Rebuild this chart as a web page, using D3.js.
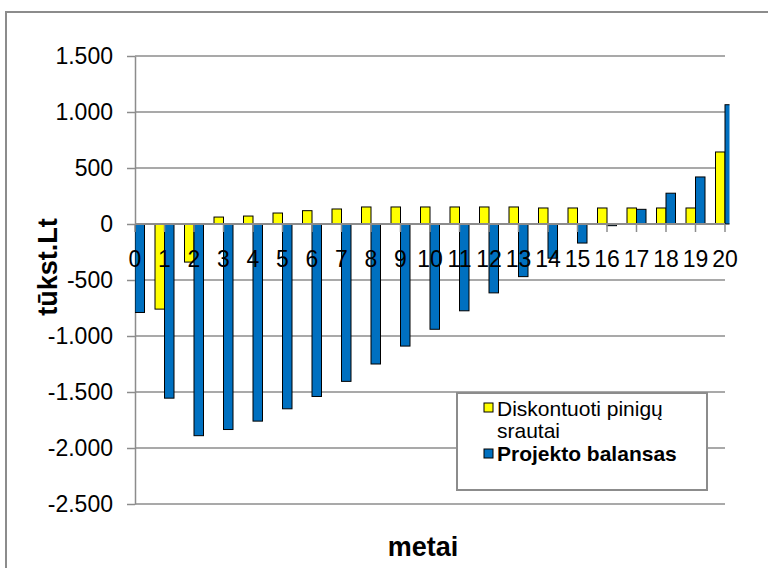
<!DOCTYPE html>
<html>
<head>
<meta charset="utf-8">
<script src="https://cdn.jsdelivr.net/npm/d3@7"></script>
<style>
  html, body { margin: 0; padding: 0; background: #fff; }
  svg { display: block; font-family: "Liberation Sans", Arial, sans-serif; }
</style>
</head>
<body>
<svg id="chart" width="768" height="568"></svg>
<script>
// Years of the project
const years = ["0","1","2","3","4","5","6","7","8","9","10","11","12","13","14","15","16","17","18","19","20"];
// Discounted cash flows, thousand Lt
const discountedFlows = [-790, -760, -340, 62, 71, 98, 119, 134, 152, 152, 152, 152, 152, 152, 143, 143, 143, 143, 143, 143, 643];
// Cumulative project balance, thousand Lt
const projectBalance = [-790, -1555, -1890, -1835, -1760, -1650, -1540, -1405, -1250, -1090, -940, -775, -615, -470, -305, -170, -15, 131, 275, 420, 1065];
// Value axis ticks
const yTicks = [1500, 1000, 500, 0, -500, -1000, -1500, -2000, -2500];

const seriesNames = ["Diskontuoti pinigų srautai", "Projekto balansas"];
const seriesColors = ["#FFFF00", "#0070C0"];

const svg = d3.select("#chart");
const plot = { left: 135, right: 725, top: 56, bottom: 504 };
const barW = 9.5;

const x = d3.scalePoint().domain(years).range([plot.left, plot.right]).padding(0);
const y = d3.scaleLinear().domain([-2500, 1500]).range([plot.bottom, plot.top]);

const lt = d3.formatLocale({ decimal: ",", thousands: ".", grouping: [3], currency: ["", ""], minus: "-" });
const fmt = lt.format(",d");

// Outer chart frame
svg.append("rect")
  .attr("x", 6).attr("y", 12).attr("width", 800).attr("height", 600)
  .attr("fill", "none").attr("stroke", "#8c8c8c").attr("stroke-width", 2);

// Horizontal gridlines
svg.append("g").selectAll("line").data(yTicks.filter(d => d !== 0)).join("line")
  .attr("x1", plot.left).attr("x2", plot.right)
  .attr("y1", d => y(d)).attr("y2", d => y(d))
  .attr("stroke", "#8c8c8c").attr("stroke-width", 1.5);

// Value axis
const yAxis = svg.append("g")
  .attr("transform", `translate(${plot.left},0)`)
  .call(d3.axisLeft(y).tickValues(yTicks).tickFormat(fmt).tickSize(8).tickPadding(14).tickSizeOuter(0));
yAxis.select(".domain").attr("stroke", "#8c8c8c").attr("stroke-width", 1.5);
yAxis.selectAll(".tick line").attr("stroke", "#8c8c8c").attr("stroke-width", 1.5);
yAxis.selectAll(".tick text")
  .attr("font-size", "23px").attr("fill", "#000")
  .attr("font-family", "Liberation Sans, Arial, sans-serif");

// Bars, clipped to the plot area
svg.append("clipPath").attr("id", "plotClip")
  .append("rect").attr("x", plot.left).attr("y", 0).attr("width", plot.right - plot.left + 4.5).attr("height", 568);

const bars = svg.append("g").attr("clip-path", "url(#plotClip)");
const seriesData = [discountedFlows, projectBalance];
seriesData.forEach((vals, si) => {
  bars.append("g").selectAll("rect").data(vals).join("rect")
    .attr("x", (d, i) => x(years[i]) + (si === 0 ? -barW : 0))
    .attr("width", barW)
    .attr("y", d => Math.min(y(d), y(0)))
    .attr("height", d => Math.abs(y(d) - y(0)))
    .attr("fill", seriesColors[si])
    .attr("stroke", "#000").attr("stroke-width", 1);
});

// Category axis along zero
const xAxis = svg.append("g").attr("transform", `translate(0,${y(0)})`);
xAxis.append("line")
  .attr("x1", plot.left).attr("x2", plot.right).attr("y1", 0).attr("y2", 0)
  .attr("stroke", "#8c8c8c").attr("stroke-width", 2);
xAxis.selectAll("line.tick").data(years).join("line").attr("class", "tick")
  .attr("x1", d => x(d)).attr("x2", d => x(d)).attr("y1", 0).attr("y2", 8)
  .attr("stroke", "#8c8c8c").attr("stroke-width", 1.5);
xAxis.selectAll("text").data(years).join("text")
  .attr("x", d => x(d)).attr("y", 43)
  .attr("text-anchor", "middle").attr("font-size", "23px").attr("fill", "#000")
  .text(d => d);

// Axis titles
svg.append("text")
  .attr("transform", `translate(57,267) rotate(-90)`)
  .attr("text-anchor", "middle").attr("font-size", "27px").attr("font-weight", "bold")
  .text("tūkst.Lt");
svg.append("text")
  .attr("x", 423).attr("y", 556)
  .attr("text-anchor", "middle").attr("font-size", "27px").attr("font-weight", "bold")
  .text("metai");

// Legend
const lg = svg.append("g");
lg.append("rect").attr("x", 457).attr("y", 393).attr("width", 250).attr("height", 97)
  .attr("fill", "#fff").attr("stroke", "#8c8c8c").attr("stroke-width", 2);
lg.append("rect").attr("x", 484).attr("y", 403).attr("width", 9).attr("height", 9)
  .attr("fill", seriesColors[0]).attr("stroke", "#000").attr("stroke-width", 1);
lg.append("text").attr("x", 497).attr("y", 416).attr("font-size", "21px").text("Diskontuoti pinigų");
lg.append("text").attr("x", 497).attr("y", 438).attr("font-size", "21px").text("srautai");
lg.append("rect").attr("x", 484).attr("y", 449).attr("width", 9).attr("height", 9)
  .attr("fill", seriesColors[1]).attr("stroke", "#000").attr("stroke-width", 1);
lg.append("text").attr("x", 497).attr("y", 461).attr("font-size", "21px").attr("font-weight", "bold").text("Projekto balansas");
</script>
</body>
</html>
